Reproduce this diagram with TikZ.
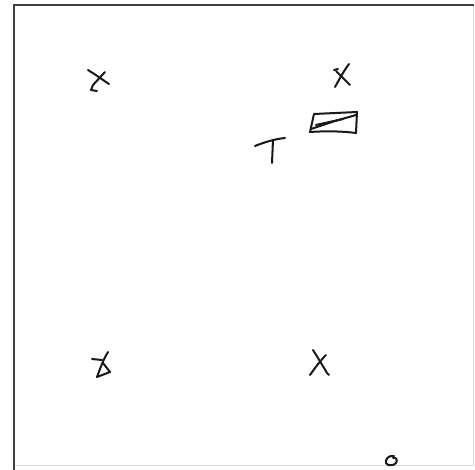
\documentclass[tikz,border=0pt]{standalone}
\begin{document}
\begin{tikzpicture}[x=1pt,y=-1pt,
  pen/.style={line width=2pt,line cap=round,line join=round,black!90},
  darkedge/.style={line width=2pt,black!75},
  lightedge/.style={line width=1pt,black!15}]
\useasboundingbox (0,0) rectangle (475,470);
\fill[white] (0,0) rectangle (475,470);
% frame
\draw[lightedge] (473,5) -- (473,466) -- (14,466);
\draw[darkedge] (14,470) -- (14,5) -- (474,5);
% X top left
\draw[pen] (88,70) .. controls (96,75) and (103,80) .. (109,84);
\draw[pen] (105,72) -- (93,85) -- (91,90) -- (97,91);
% X top right
\draw[pen] (349,64) .. controls (343,72) and (339,80) .. (335,87);
\draw[pen] (334,70) -- (338,69);
\draw[pen] (336,71) .. controls (341,76) and (346,81) .. (350,85);
% T
\draw[pen] (255,146) .. controls (265,142) and (275,139) .. (285,138);
\draw[pen] (273,140) -- (272,163);
% rectangle with zigzag
\draw[pen] (314,114) -- (357,112) -- (356,133) .. controls (340,131) and (325,131) .. (310,132) -- cycle;
\draw[pen] (311,129) -- (335,121) -- (356,115);
\draw[pen] (316,125) -- (343,119);
% X bottom left (crossed)
\draw[pen] (92,359) -- (102,360);
\draw[pen] (108,352) .. controls (103,360) and (100,369) .. (97,377) -- (110,372) -- (103,363);
% X bottom middle
\draw[pen] (313,350) .. controls (318,358) and (323,366) .. (327,373) -- (329,375);
\draw[pen] (326,355) .. controls (320,361) and (315,368) .. (310,375);
% small o
\draw[pen] (393,458) .. controls (396,457) and (398,460) .. (396,463)
  .. controls (394,466) and (387,466) .. (386,463)
  .. controls (385,459) and (389,455) .. (394,456);
\end{tikzpicture}
\end{document}
